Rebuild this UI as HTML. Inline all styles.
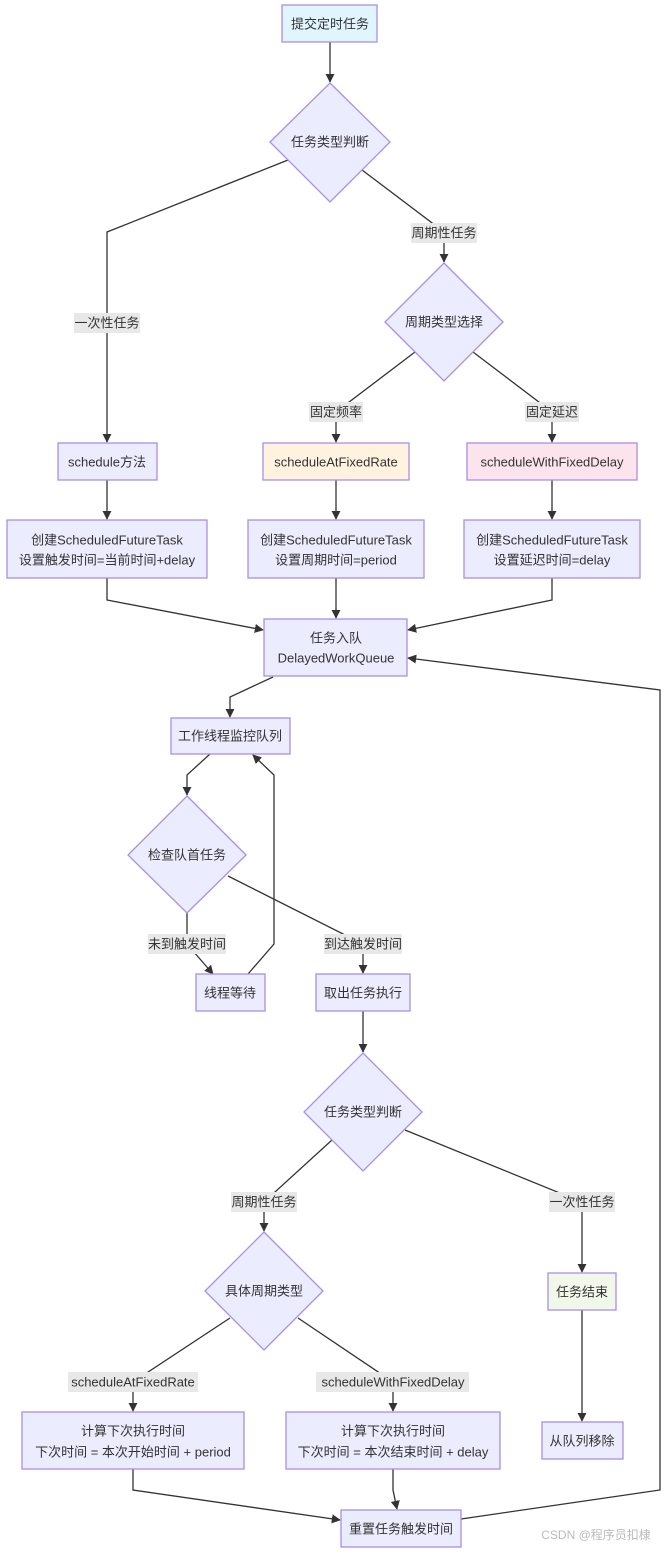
<!DOCTYPE html>
<html><head><meta charset="utf-8"><style>
html,body{margin:0;padding:0;background:#fff;}
svg text{font-family:"Liberation Sans","Noto Sans CJK SC",sans-serif;font-size:13px;fill:#333;text-anchor:middle;dominant-baseline:central;}
.n{fill:#ECECFF;stroke:#A98EE8;stroke-width:1.3;}
.e{fill:none;stroke:#333;stroke-width:1.3;marker-end:url(#a);}
.l{fill:#E8E8E8;}
</style></head><body>
<svg width="669" height="1549" viewBox="0 0 669 1549" xmlns="http://www.w3.org/2000/svg">
<defs><marker id="a" viewBox="0 0 10 10" refX="9" refY="5" markerWidth="7" markerHeight="7" orient="auto"><path d="M0,0L10,5L0,10z" fill="#333"/></marker></defs>
<!-- edges -->
<path class="e" d="M330,42V82"/>
<path class="e" d="M288,160L107,232V442"/>
<path class="e" d="M362,170L444,232V262"/>
<path class="e" d="M415,352L336,412V442"/>
<path class="e" d="M473,352L552,412V442"/>
<path class="e" d="M107,480V519"/>
<path class="e" d="M336,480V519"/>
<path class="e" d="M552,480V519"/>
<path class="e" d="M107,578V600L263,630"/>
<path class="e" d="M336,578V618"/>
<path class="e" d="M552,578V600L408,630"/>
<path class="e" d="M273,677L230,697V717"/>
<path class="e" d="M210,754L187,775V795"/>
<path class="e" d="M187,913V944L213,974"/>
<path class="e" d="M248,974L274,944V775L253,755"/>
<path class="e" d="M228,876L363,944V973"/>
<path class="e" d="M363,1011V1052"/>
<path class="e" d="M332,1140L264,1202V1231"/>
<path class="e" d="M405,1130L582,1202V1272"/>
<path class="e" d="M582,1310V1421"/>
<path class="e" d="M230,1318L133,1382V1411"/>
<path class="e" d="M298,1318L393,1382V1411"/>
<path class="e" d="M133,1469V1490L340,1520"/>
<path class="e" d="M393,1469V1490L397,1509"/>
<path class="e" d="M461,1519L660,1490V690L408,658"/>
<!-- edge labels -->
<rect class="l" x="74" y="313" width="66" height="20"/><text x="107" y="323">一次性任务</text>
<rect class="l" x="411" y="223" width="66" height="20"/><text x="444" y="233">周期性任务</text>
<rect class="l" x="309" y="402" width="54" height="20"/><text x="336" y="412">固定频率</text>
<rect class="l" x="525" y="402" width="54" height="20"/><text x="552" y="412">固定延迟</text>
<rect class="l" x="148" y="934" width="78" height="20"/><text x="187" y="944">未到触发时间</text>
<rect class="l" x="324" y="934" width="78" height="20"/><text x="363" y="944">到达触发时间</text>
<rect class="l" x="231" y="1192" width="66" height="20"/><text x="264" y="1202">周期性任务</text>
<rect class="l" x="549" y="1192" width="66" height="20"/><text x="582" y="1202">一次性任务</text>
<rect class="l" x="68" y="1372" width="130" height="20"/><text x="133" y="1382">scheduleAtFixedRate</text>
<rect class="l" x="316" y="1372" width="153" height="20"/><text x="393" y="1382">scheduleWithFixedDelay</text>
<!-- nodes -->
<rect class="n" style="fill:#E1F5FE" x="282" y="5" width="95" height="37"/><text x="330" y="24">提交定时任务</text>
<polygon class="n" points="330,83 390,142 330,202 270,142"/><text x="330" y="142">任务类型判断</text>
<polygon class="n" points="444,263 503,322 444,381 385,322"/><text x="444" y="322">周期类型选择</text>
<rect class="n" x="58" y="443" width="99" height="37"/><text x="107" y="462">schedule方法</text>
<rect class="n" style="fill:#FFF3E0" x="263" y="443" width="146" height="37"/><text x="336" y="462">scheduleAtFixedRate</text>
<rect class="n" style="fill:#FCE4EC" x="467" y="443" width="170" height="37"/><text x="552" y="462">scheduleWithFixedDelay</text>
<rect class="n" x="7" y="520" width="200" height="58"/><text x="107" y="540">创建ScheduledFutureTask</text><text x="107" y="560">设置触发时间=当前时间+delay</text>
<rect class="n" x="248" y="520" width="176" height="58"/><text x="336" y="540">创建ScheduledFutureTask</text><text x="336" y="560">设置周期时间=period</text>
<rect class="n" x="464" y="520" width="176" height="58"/><text x="552" y="540">创建ScheduledFutureTask</text><text x="552" y="560">设置延迟时间=delay</text>
<rect class="n" x="264" y="619" width="143" height="57"/><text x="336" y="638">任务入队</text><text x="336" y="658">DelayedWorkQueue</text>
<rect class="n" x="171" y="718" width="119" height="36"/><text x="230" y="736">工作线程监控队列</text>
<polygon class="n" points="187,796 246,855 187,913 128,855"/><text x="187" y="855">检查队首任务</text>
<rect class="n" x="196" y="974" width="69" height="37"/><text x="230" y="993">线程等待</text>
<rect class="n" x="316" y="974" width="94" height="37"/><text x="363" y="993">取出任务执行</text>
<polygon class="n" points="363,1053 422,1112 363,1171 304,1112"/><text x="363" y="1112">任务类型判断</text>
<polygon class="n" points="264,1232 323,1291 264,1350 205,1291"/><text x="264" y="1291">具体周期类型</text>
<rect class="n" style="fill:#F1F8E9" x="548" y="1273" width="68" height="37"/><text x="582" y="1292">任务结束</text>
<rect class="n" x="542" y="1422" width="81" height="37"/><text x="582" y="1441">从队列移除</text>
<rect class="n" x="22" y="1412" width="222" height="57"/><text x="133" y="1431">计算下次执行时间</text><text x="133" y="1452">下次时间 = 本次开始时间 + period</text>
<rect class="n" x="286" y="1412" width="214" height="57"/><text x="393" y="1431">计算下次执行时间</text><text x="393" y="1452">下次时间 = 本次结束时间 + delay</text>
<rect class="n" x="341" y="1510" width="120" height="37"/><text x="401" y="1529">重置任务触发时间</text>
<text x="596" y="1535" style="fill:#bbb;font-size:12px">CSDN @程序员扣棣</text>
</svg>
</body></html>
